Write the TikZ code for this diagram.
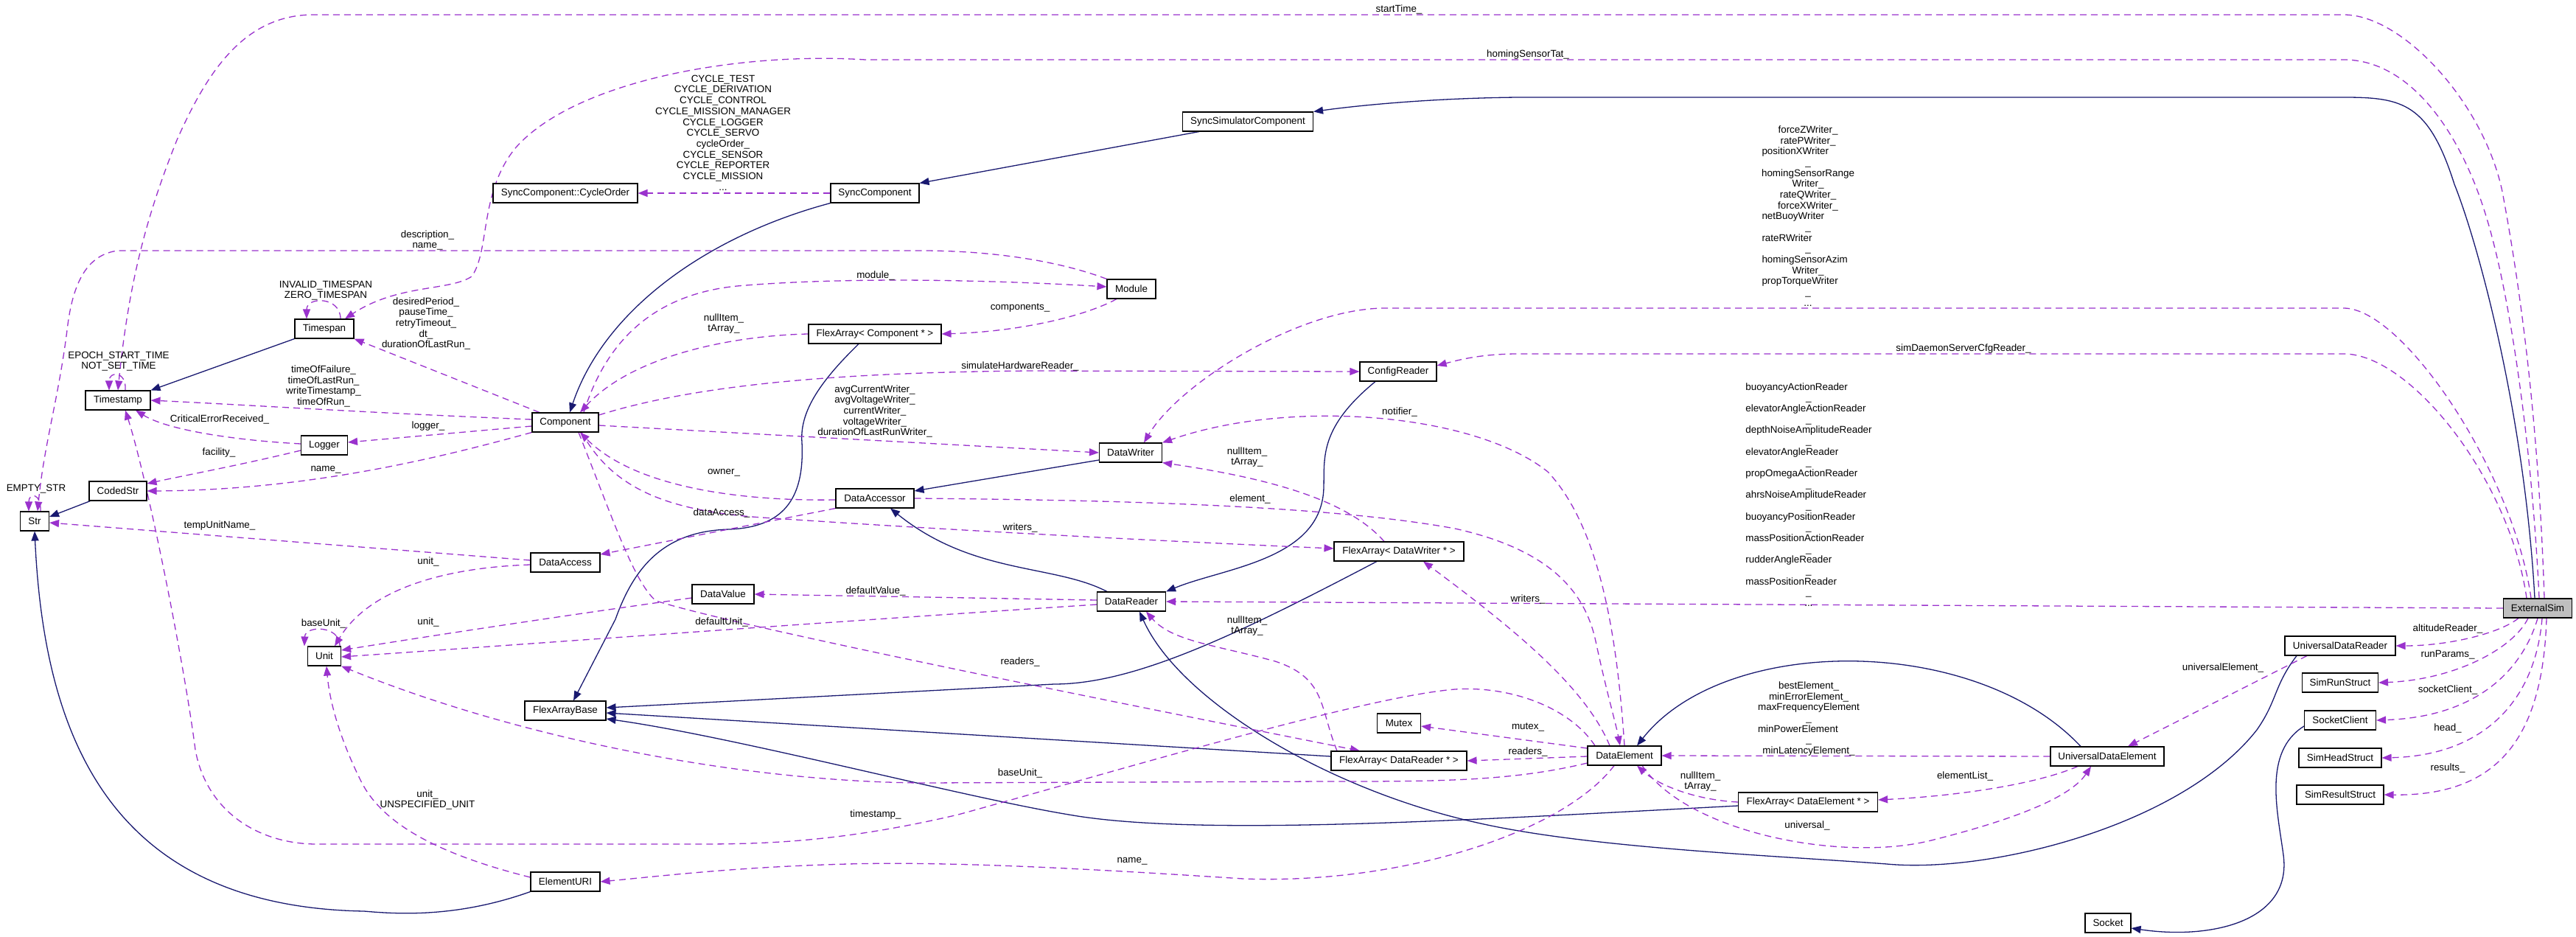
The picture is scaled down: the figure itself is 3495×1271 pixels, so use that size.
\documentclass[tikz,border=0pt]{standalone}
\usepackage{fontspec}
\setmainfont{Liberation Sans}
\usetikzlibrary{arrows.meta,backgrounds}
\definecolor{inhcol}{HTML}{191970}
\definecolor{usecol}{HTML}{9A32CD}
\definecolor{extgray}{HTML}{BFBFBF}
\tikzset{
  cls/.style={draw=black, line width=1.1pt, fill=white, minimum height=26pt, inner xsep=2pt, inner ysep=2pt, font=\fontsize{13.4}{14.67}\selectfont},
  lbl/.style={font=\fontsize{13.4}{14.67}\selectfont, align=center, inner sep=0pt},
  inh/.style={draw=inhcol, line width=1.3pt, -{Triangle[length=13pt,width=10pt]}},
  use/.style={draw=usecol, line width=1.3pt, dash pattern=on 9pt off 6pt, -{Triangle[length=13pt,width=10pt]}},
}
\begin{document}
\begin{tikzpicture}[x=1pt,y=-1pt]
\useasboundingbox (0,0) rectangle (3495,1271);

% ---------- classes ----------
\node[cls, fill=extgray, minimum width=93pt] (ExtSim) at (3443,825) {ExternalSim};
\node[cls, minimum width=177pt] (SyncSim) at (1693,165) {SyncSimulatorComponent};
\node[cls, minimum width=120pt] (SyncComp) at (1187,262) {SyncComponent};
\node[cls, minimum width=196pt] (CycleOrder) at (767,262) {SyncComponent::CycleOrder};
\node[cls, minimum width=66pt] (Module) at (1535,392) {Module};
\node[cls, minimum width=80pt] (Timespan) at (440,446) {Timespan};
\node[cls, minimum width=88pt] (Timestamp) at (160,543) {Timestamp};
\node[cls, minimum width=90pt] (Component) at (767,573) {Component};
\node[cls, minimum width=63pt] (Logger) at (440,604) {Logger};
\node[cls, minimum width=78pt] (CodedStr) at (160,666) {CodedStr};
\node[cls, minimum width=39pt] (Str) at (47,707) {Str};
\node[cls, minimum width=94pt] (DataAccess) at (767,763) {DataAccess};
\node[cls, minimum width=45pt] (Unit) at (440,890) {Unit};
\node[cls, minimum width=110pt] (FABase) at (767,964) {FlexArrayBase};
\node[cls, minimum width=94pt] (ElementURI) at (767,1196) {ElementURI};
\node[cls, minimum width=180pt] (FAComp) at (1187,453) {FlexArray< Component * >};
\node[cls, minimum width=106pt] (DataAccessor) at (1187,676) {DataAccessor};
\node[cls, minimum width=84pt] (DataValue) at (981,806) {DataValue};
\node[cls, minimum width=104pt] (ConfigReader) at (1897,504) {ConfigReader};
\node[cls, minimum width=85pt] (DataWriter) at (1534,614) {DataWriter};
\node[cls, minimum width=176pt] (FADW) at (1898,748) {FlexArray< DataWriter * >};
\node[cls, minimum width=93pt] (DataReader) at (1535,816) {DataReader};
\node[cls, minimum width=59pt] (Mutex) at (1898,981) {Mutex};
\node[cls, minimum width=184pt] (FADR) at (1898,1032) {FlexArray< DataReader * >};
\node[cls, minimum width=100pt] (DataElement) at (2204,1025) {DataElement};
\node[cls, minimum width=154pt] (UDE) at (2859,1026) {UniversalDataElement};
\node[cls, minimum width=189pt] (FADE) at (2453,1088) {FlexArray< DataElement * >};
\node[cls, minimum width=150pt] (UDR) at (3175,876) {UniversalDataReader};
\node[cls, minimum width=103pt] (SimRunStruct) at (3175,926) {SimRunStruct};
\node[cls, minimum width=97pt] (SocketClient) at (3175,977) {SocketClient};
\node[cls, minimum width=112pt] (SimHeadStruct) at (3175,1028) {SimHeadStruct};
\node[cls, minimum width=118pt] (SimResultStruct) at (3175,1078) {SimResultStruct};
\node[cls, minimum width=62pt] (Socket) at (2860,1252) {Socket};

% ---------- connectors ----------
\begin{pgfonlayer}{background}
% inheritance
\draw[inh] ([xshift=-4pt]ExtSim.north) .. controls (3425,560) and (3362,330) .. (3330,250) .. controls (3295,140) and (3260,132) .. (3180,132) -- (2060,132) .. controls (1950,133) and (1850,142) .. (SyncSim.north east);
\draw[inh] ([xshift=-66pt]SyncSim.south) -- (SyncComp.north east);
\draw[inh] (SyncComp.south west) .. controls (960,320) and (820,420) .. ([xshift=6pt]Component.north);
\draw[inh] (Timespan.south west) -- (Timestamp.north east);
\draw[inh] ([xshift=2pt]CodedStr.south west) -- ([yshift=6pt]Str.east);
\draw[inh] (ElementURI.south west) .. controls (620,1245) and (540,1240) .. (494,1236) .. controls (150,1230) and (60,1000) .. (Str.south);
\draw[inh] ([xshift=-22pt]FAComp.south) .. controls (1110,520) and (1085,560) .. (1088,600) .. controls (1092,680) and (1060,715) .. (990,718) .. controls (900,720) and (860,770) .. (835,840) -- ([xshift=11pt]FABase.north);
\draw[inh] ([yshift=-10pt]DataWriter.west) -- ([yshift=10pt]DataAccessor.east);
\draw[inh] ([xshift=-33pt]DataReader.north) .. controls (1430,765) and (1320,780) .. ([xshift=21pt]DataAccessor.south);
\draw[inh] ([xshift=-31pt]ConfigReader.south) .. controls (1790,580) and (1797,620) .. (1796,660) .. controls (1795,760) and (1660,770) .. (DataReader.north east);
\draw[inh] ([xshift=-30pt]FADW.south) .. controls (1680,860) and (1540,928) .. (1430,928) -- ([yshift=4pt]FABase.east);
\draw[inh] ([yshift=6pt]FADR.west) -- ([yshift=-3pt]FABase.east);
\draw[inh] ([yshift=-5pt]FADE.west) .. controls (1980,1113) and (1620,1135) .. (1450,1105) .. controls (1300,1080) and (1000,1000) .. ([yshift=-11pt]FABase.east);
\draw[inh] ([xshift=-36pt]UDE.north) .. controls (2680,860) and (2340,860) .. ([xshift=17pt]DataElement.north);
\draw[inh] ([xshift=-59pt]UDR.south) .. controls (3085,930) and (3090,950) .. (3062,990) .. controls (2960,1120) and (2700,1185) .. (2560,1172) .. controls (2400,1160) and (2150,1150) .. (2000,1115) .. controls (1800,1070) and (1600,950) .. ([xshift=11pt]DataReader.south);
\draw[inh] ([yshift=-8pt]SocketClient.west) .. controls (3070,1020) and (3090,1100) .. (3098,1160) .. controls (3110,1250) and (3000,1275) .. ([yshift=-7pt]Socket.east);

% usage (ExternalSim)
\draw[use] ([xshift=9pt]ExtSim.north) .. controls (3445,600) and (3425,420) .. (3395,260) .. controls (3370,140) and (3260,20) .. (3180,20) -- (425,20) .. controls (330,20) and (280,100) .. (240,190) .. controls (200,290) and (175,380) .. (Timestamp.north);
\draw[use] ([xshift=2pt]ExtSim.north) .. controls (3435,600) and (3405,400) .. (3375,300) .. controls (3340,180) and (3270,81) .. (3180,81) -- (1174,81) .. controls (1000,70) and (780,110) .. (700,200) .. controls (650,260) and (665,340) .. (640,375) .. controls (610,395) and (540,385) .. ([xshift=28pt]Timespan.north);
\draw[use] ([xshift=-9pt]ExtSim.north) .. controls (3410,640) and (3260,418) .. (3180,418) -- (1876,418) .. controls (1760,420) and (1600,520) .. ([xshift=18pt]DataWriter.north);
\draw[use] ([xshift=-15pt]ExtSim.north) .. controls (3405,650) and (3270,480) .. (3180,480) -- (2060,480) .. controls (2010,480) and (1980,488) .. ([yshift=8pt]ConfigReader.east);
\draw[use] (ExtSim.west) -- (DataReader.east);
\draw[use] ([xshift=-26pt]ExtSim.south) .. controls (3390,860) and (3320,876) .. (UDR.east);
\draw[use] ([xshift=-13pt]ExtSim.south) .. controls (3410,880) and (3330,922) .. (SimRunStruct.east);
\draw[use] (ExtSim.south) .. controls (3425,900) and (3370,972) .. (SocketClient.east);
\draw[use] ([xshift=6pt]ExtSim.south) .. controls (3440,950) and (3370,1025) .. (SimHeadStruct.east);
\draw[use] ([xshift=12pt]ExtSim.south) .. controls (3450,1000) and (3390,1080) .. (SimResultStruct.east);

% usage (others)
\draw[use] (SyncComp.west) -- (CycleOrder.east);
\draw[use] (Module.north west) .. controls (1440,355) and (1350,340) .. (1250,340) -- (160,340) .. controls (120,345) and (100,380) .. (92,440) .. controls (80,540) and (60,600) .. ([xshift=4pt]Str.north);
\draw[use] ([xshift=-35pt]Component.north) -- (Timespan.south east);
\draw[use] ([yshift=4pt]Component.west) .. controls (500,560) and (350,550) .. (Timestamp.east);
\draw[use] ([yshift=2pt]Logger.west) .. controls (330,598) and (230,585) .. ([xshift=24pt]Timestamp.south);
\draw[use] ([yshift=-5pt]Component.west) -- ([yshift=4pt]Logger.east);
\draw[use] ([yshift=-7pt]Logger.west) .. controls (330,630) and (250,645) .. ([yshift=10pt]CodedStr.east);
\draw[use] (Component.south west) .. controls (600,620) and (420,665) .. (CodedStr.east);
\draw[use] ([yshift=3pt]DataAccess.west) -- ([yshift=-2pt]Str.east);
\draw[use] ([yshift=-3pt]DataAccess.west) .. controls (600,770) and (500,800) .. ([xshift=14pt]Unit.north);
\draw[use] ([yshift=-5pt]DataValue.west) .. controls (800,830) and (600,860) .. ([yshift=8pt]Unit.east);
\draw[use] ([yshift=-4pt]DataReader.west) .. controls (1100,845) and (700,875) .. ([yshift=-1pt]Unit.east);
\draw[use] ([yshift=-10pt]DataElement.west) .. controls (2050,1060) and (1950,1060) .. (1800,1060) -- (1250,1062) .. controls (1000,1060) and (700,1000) .. (Unit.south east);
\draw[use] ([xshift=-2pt]Unit.north east) .. controls (462,848) and (414,848) .. ([xshift=-4pt]Unit.north west);
\draw[use] ([yshift=6pt]ElementURI.west) .. controls (600,1160) and (520,1120) .. (490,1060) .. controls (460,1000) and (447,950) .. ([xshift=3pt]Unit.south);
\draw[use] ([xshift=-40pt]DataElement.north) .. controls (2130,960) and (2050,930) .. (1974,935) .. controls (1850,945) and (1500,1050) .. (1300,1105) .. controls (1150,1140) and (1050,1145) .. (950,1145) -- (430,1145) .. controls (350,1145) and (280,1100) .. (265,1017) .. controls (250,900) and (200,650) .. ([xshift=10pt]Timestamp.south);
\draw[use] ([xshift=-14pt]DataElement.south) .. controls (2120,1130) and (1900,1200) .. (1687,1192) .. controls (1500,1180) and (1300,1168) .. (1150,1172) .. controls (1000,1176) and (900,1188) .. (ElementURI.east);
\draw[use] ([xshift=25pt]Component.north) .. controls (820,470) and (880,400) .. (1000,388) .. controls (1150,375) and (1350,380) .. ([yshift=3pt]Module.west);
\draw[use] ([xshift=-20pt]Module.south) .. controls (1470,430) and (1380,450) .. (FAComp.east);
\draw[use] (FAComp.west) .. controls (1000,455) and (860,480) .. ([xshift=20pt]Component.north);
\draw[use] ([yshift=10pt]Component.east) .. controls (950,520) and (1150,505) .. (1400,503) -- (ConfigReader.west);
\draw[use] ([yshift=-4pt]Component.east) -- (DataWriter.west);
\draw[use] ([yshift=-2pt]DataAccessor.west) .. controls (1000,680) and (860,660) .. ([xshift=20pt]Component.south);
\draw[use] (DataAccessor.south west) -- ([yshift=11pt]DataAccess.east);
\draw[use] ([xshift=22pt]Component.south) .. controls (830,660) and (900,695) .. (1050,703) .. controls (1300,720) and (1600,735) .. ([yshift=4pt]FADW.west);
\draw[use] (DataAccessor.east) .. controls (1500,678) and (1800,685) .. (1974,717) .. controls (2100,745) and (2150,800) .. (2165,870) .. controls (2180,940) and (2192,980) .. ([xshift=-6pt]DataElement.north);
\draw[use] (DataElement.north) .. controls (2195,880) and (2175,720) .. (2100,640) .. controls (2000,560) and (1750,540) .. (DataWriter.north east);
\draw[use] ([xshift=-20pt]FADW.north) .. controls (1830,680) and (1730,650) .. (DataWriter.south east);
\draw[use] ([xshift=-20pt]DataElement.north) .. controls (2150,930) and (2050,850) .. ([xshift=33pt]FADW.south);
\draw[use] ([xshift=-84pt]FADR.north) .. controls (1790,960) and (1800,920) .. (1730,897) .. controls (1650,875) and (1590,870) .. ([xshift=20pt]DataReader.south);
\draw[use] ([xshift=18pt]Component.south) .. controls (830,700) and (860,790) .. (890,815) .. controls (1000,850) and (1500,950) .. ([xshift=-53pt]FADR.north);
\draw[use] ([yshift=-1pt]DataElement.west) -- (FADR.east);
\draw[use] ([yshift=10pt]DataElement.west) -- ([yshift=-4pt]Mutex.east);
\draw[use] (UDE.west) -- (DataElement.east);
\draw[use] (FADE.west) .. controls (2300,1085) and (2250,1065) .. ([xshift=17pt]DataElement.south);
\draw[use] ([xshift=-40pt]UDE.south) .. controls (2760,1065) and (2650,1080) .. ([yshift=3pt]FADE.east);
\draw[use] ([xshift=24pt]DataElement.south) .. controls (2290,1130) and (2500,1170) .. (2620,1140) .. controls (2740,1110) and (2810,1080) .. ([xshift=-22pt]UDE.south);
\draw[use] ([xshift=-45pt]UDR.south) -- ([xshift=28pt]UDE.north);
\draw[use] ([yshift=2pt]DataReader.west) -- (DataValue.east);
\draw[use] ([xshift=10pt]Timestamp.north) .. controls (172,503) and (148,503) .. ([xshift=-12pt]Timestamp.north);
\draw[use] ([xshift=22pt]Timespan.north) .. controls (462,402) and (416,402) .. ([xshift=-24pt]Timespan.north);
\draw[use] ([xshift=8pt]Str.north) .. controls (56,668) and (39,668) .. ([xshift=-8pt]Str.north);
\end{pgfonlayer}

% ---------- labels ----------
\node[lbl] (lCycle) at (981,180) {CYCLE\_TEST\\CYCLE\_DERIVATION\\CYCLE\_CONTROL\\CYCLE\_MISSION\_MANAGER\\CYCLE\_LOGGER\\CYCLE\_SERVO\\cycleOrder\_\\CYCLE\_SENSOR\\CYCLE\_REPORTER\\CYCLE\_MISSION\\...};
\node[lbl] (lDesc) at (580,326) {description\_\\name\_};
\node[lbl] (lInvalid) at (442,394) {INVALID\_TIMESPAN\\ZERO\_TIMESPAN};
\node[lbl] (lDesired) at (578,439) {desiredPeriod\_\\pauseTime\_\\retryTimeout\_\\dt\_\\durationOfLastRun\_};
\node[lbl] (lEpoch) at (161,490) {EPOCH\_START\_TIME\\NOT\_SET\_TIME};
\node[lbl] (lTimeOf) at (439,524) {timeOfFailure\_\\timeOfLastRun\_\\writeTimestamp\_\\timeOfRun\_};
\node[lbl] (lCrit) at (298,569) {CriticalErrorReceived\_};
\node[lbl] (lLogger) at (581,578) {logger\_};
\node[lbl] (lFacility) at (297,614) {facility\_};
\node[lbl] (lName1) at (442,637) {name\_};
\node[lbl] (lEmpty) at (49,663) {EMPTY\_STR};
\node[lbl] (lTempUnit) at (298,713) {tempUnitName\_};
\node[lbl] (lUnit1) at (581,762) {unit\_};
\node[lbl] (lBaseUnit1) at (439,846) {baseUnit\_};
\node[lbl] (lUnit2) at (581,844) {unit\_};
\node[lbl] (lUnit3) at (580,1085) {unit\_\\UNSPECIFIED\_UNIT};
\node[lbl] (lTimestamp) at (1188,1105) {timestamp\_};
\node[lbl] (lBaseUnit2) at (1384,1049) {baseUnit\_};
\node[lbl] (lReaders1) at (1384,898) {readers\_};
\node[lbl] (lName2) at (1536,1168) {name\_};
\node[lbl] (lModule) at (1188,374) {module\_};
\node[lbl] (lComponents) at (1384,418) {components\_};
\node[lbl] (lNull1) at (982,439) {nullItem\_\\tArray\_};
\node[lbl] (lSimHW) at (1384,497) {simulateHardwareReader\_};
\node[lbl] (lAvg) at (1187,558) {avgCurrentWriter\_\\avgVoltageWriter\_\\currentWriter\_\\voltageWriter\_\\durationOfLastRunWriter\_};
\node[lbl] (lOwner) at (982,641) {owner\_};
\node[lbl] (lDataAccess) at (979,696) {dataAccess\_};
\node[lbl] (lWriters1) at (1384,716) {writers\_};
\node[lbl] (lDefVal) at (1188,802) {defaultValue\_};
\node[lbl] (lDefUnit) at (979,844) {defaultUnit\_};
\node[lbl] (lStart) at (1898,13) {startTime\_};
\node[lbl] (lHoming) at (2073,74) {homingSensorTat\_};
\node[lbl] (lNotifier) at (1899,559) {notifier\_};
\node[lbl] (lNull2) at (1692,620) {nullItem\_\\tArray\_};
\node[lbl] (lElement) at (1696,677) {element\_};
\node[lbl] (lWriters2) at (2073,813) {writers\_};
\node[lbl] (lNull3) at (1692,849) {nullItem\_\\tArray\_};
\node[lbl] (lMutex) at (2073,986) {mutex\_};
\node[lbl] (lReaders2) at (2073,1020) {readers\_};
\node[lbl] (lSimDaemon) at (2664,473) {simDaemonServerCfgReader\_};
\node[lbl] (lAlt) at (3321,853) {altitudeReader\_};
\node[lbl] (lRun) at (3321,888) {runParams\_};
\node[lbl] (lSock) at (3321,936) {socketClient\_};
\node[lbl] (lHead) at (3321,988) {head\_};
\node[lbl] (lResults) at (3321,1042) {results\_};
\node[lbl] (lUnivEl) at (3016,906) {universalElement\_};
\node[lbl] (lElemList) at (2666,1053) {elementList\_};
\node[lbl] (lUniversal) at (2452,1120) {universal\_};
\node[lbl] (lNull4) at (2307,1060) {nullItem\_\\tArray\_};

\node[lbl, align=left] (lWritersGrp) at (2453,293) {\makebox[125pt][c]{forceZWriter\_}\\\makebox[125pt][c]{ratePWriter\_}\\positionXWriter\\\makebox[125pt][c]{\_}\\\makebox[125pt][c]{homingSensorRange}\\\makebox[125pt][c]{Writer\_}\\\makebox[125pt][c]{rateQWriter\_}\\\makebox[125pt][c]{forceXWriter\_}\\netBuoyWriter\\\makebox[125pt][c]{\_}\\rateRWriter\\\makebox[125pt][c]{\_}\\homingSensorAzim\\\makebox[125pt][c]{Writer\_}\\propTorqueWriter\\\makebox[125pt][c]{\_}\\\makebox[125pt][c]{...}};

\node[lbl, align=left] (lReadersGrp) at (2454,671) {buoyancyActionReader\\\makebox[171pt][c]{\_}\\elevatorAngleActionReader\\\makebox[171pt][c]{\_}\\depthNoiseAmplitudeReader\\\makebox[171pt][c]{\_}\\elevatorAngleReader\\\makebox[171pt][c]{\_}\\propOmegaActionReader\\\makebox[171pt][c]{\_}\\ahrsNoiseAmplitudeReader\\\makebox[171pt][c]{\_}\\buoyancyPositionReader\\\makebox[171pt][c]{\_}\\massPositionActionReader\\\makebox[171pt][c]{\_}\\rudderAngleReader\\\makebox[171pt][c]{\_}\\massPositionReader\\\makebox[171pt][c]{\_}\\\makebox[171pt][c]{...}};

\node[lbl, align=left] (lBestGrp) at (2454,975) {\makebox[138pt][c]{bestElement\_}\\\makebox[138pt][c]{minErrorElement\_}\\\makebox[138pt][c]{maxFrequencyElement}\\\makebox[138pt][c]{\_}\\minPowerElement\\\makebox[138pt][c]{\_}\\\makebox[138pt][c]{minLatencyElement\_}};
\end{tikzpicture}
\end{document}
